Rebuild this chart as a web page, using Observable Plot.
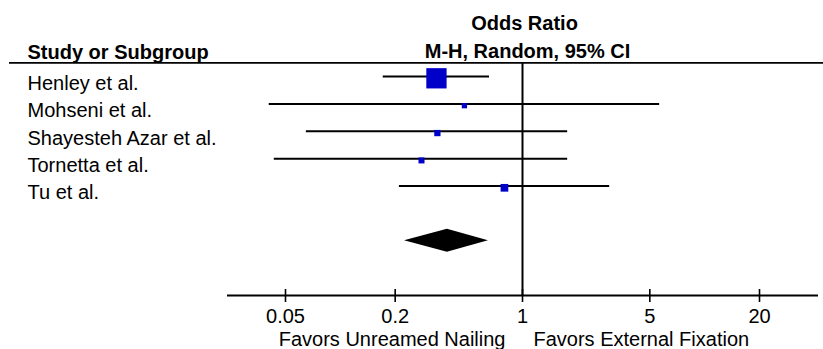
<!DOCTYPE html>
<html><head><meta charset="utf-8">
<script src="https://cdn.jsdelivr.net/npm/d3@7"></script>
<script src="https://cdn.jsdelivr.net/npm/@observablehq/plot@0.6"></script>
<style>body{margin:0;background:#fff}</style>
</head><body><div id="chart"></div>
<script>
const studies = ["Henley et al.", "Mohseni et al.", "Shayesteh Azar et al.", "Tornetta et al.", "Tu et al."];
const oddsRatio = [0.337, 0.480, 0.341, 0.279, 0.796];
const ciLower = [0.172, 0.0407, 0.0651, 0.0434, 0.211];
const ciUpper = [0.659, 5.66, 1.77, 1.77, 3.01];
const weight = [71.7, 4.9, 6.9, 6.3, 10.3];
const pooled = [0.225, 0.387, 0.650]; // lower, estimate, upper
const xTicks = [0.05, 0.2, 1, 5, 20];
const tickLabels = ["0.05", "0.2", "1", "5", "20"];
const headerLeft = "Study or Subgroup";
const headerRight1 = "Odds Ratio";
const headerRight2 = "M-H, Random, 95% CI";
const favorsLeft = "Favors Unreamed Nailing";
const favorsRight = "Favors External Fixation";

const rows = studies.map((s, i) => ({study: s, i, or: oddsRatio[i], lo: ciLower[i], hi: ciUpper[i], w: weight[i]}));
const ticks = xTicks.map((v, k) => ({v, label: tickLabels[k]}));
const diamondRow = studies.length + 1;
const axisRow = studies.length + 3;
const halfH = 0.42;
const diamond = pooled.map((v, k) => ({x: v, h: k === 1 ? halfH : 0}));
const font = "Liberation Sans, Arial, sans-serif";

const chart = Plot.plot({
  width: 823,
  height: 349,
  marginLeft: 9,
  marginRight: 0,
  marginTop: 0,
  marginBottom: 60,
  style: {fontFamily: font, fontSize: "20px", background: "#fff", color: "#000"},
  x: {type: "log", domain: [0.05, 20], range: [285, 759], axis: null},
  y: {domain: [0, axisRow], range: [76, 295], axis: null},
  r: {type: "sqrt", domain: [0, d3.max(weight)], range: [0, 11.45]},
  marks: [
    Plot.ruleY([-0.5], {stroke: "#000", strokeWidth: 1.8}),
    Plot.ruleY([axisRow], {stroke: "#000", strokeWidth: 2, insetLeft: 218, insetRight: 5}),
    Plot.ruleX([1], {y1: -0.5, y2: axisRow, stroke: "#000", strokeWidth: 2}),
    Plot.ruleX(ticks, {x: "v", y1: () => axisRow, y2: () => axisRow, insetTop: -6, insetBottom: -7, stroke: "#000", strokeWidth: 1.6}),
    Plot.text(ticks, {x: "v", text: "label", frameAnchor: "bottom", lineAnchor: "top", dy: 19, fontSize: 20}),
    Plot.ruleY(rows, {y: "i", x1: "lo", x2: "hi", stroke: "#000", strokeWidth: 2}),
    Plot.dot(rows, {x: "or", y: "i", r: "w", symbol: "square", fill: "#0000C8", stroke: "none", dy: 1.8}),
    Plot.areaY(diamond, {x: "x", y1: d => diamondRow - d.h, y2: d => diamondRow + d.h, fill: "#000", curve: "linear"}),
    Plot.text(rows, {y: "i", text: "study", frameAnchor: "left", dx: 18, dy: 7, textAnchor: "start", fontSize: 20}),
    Plot.text([headerLeft], {frameAnchor: "top-left", dx: 18, dy: 43.8, lineAnchor: "top", textAnchor: "start", fontWeight: "bold", fontSize: 20}),
    Plot.text([headerRight1], {x: 1, frameAnchor: "top", dx: 2, dy: 15.5, lineAnchor: "top", textAnchor: "middle", fontWeight: "bold", fontSize: 20}),
    Plot.text([headerRight2], {x: 1, frameAnchor: "top", dx: 5, dy: 43.5, lineAnchor: "top", textAnchor: "middle", fontWeight: "bold", fontSize: 20}),
    Plot.text([favorsLeft], {x: 1, frameAnchor: "bottom", dx: -17, dy: 41.8, lineAnchor: "top", textAnchor: "end", fontSize: 20}),
    Plot.text([favorsRight], {x: 1, frameAnchor: "bottom", dx: 11, dy: 41.8, lineAnchor: "top", textAnchor: "start", fontSize: 20})
  ]
});
document.getElementById("chart").appendChild(chart);
</script>
</body></html>
